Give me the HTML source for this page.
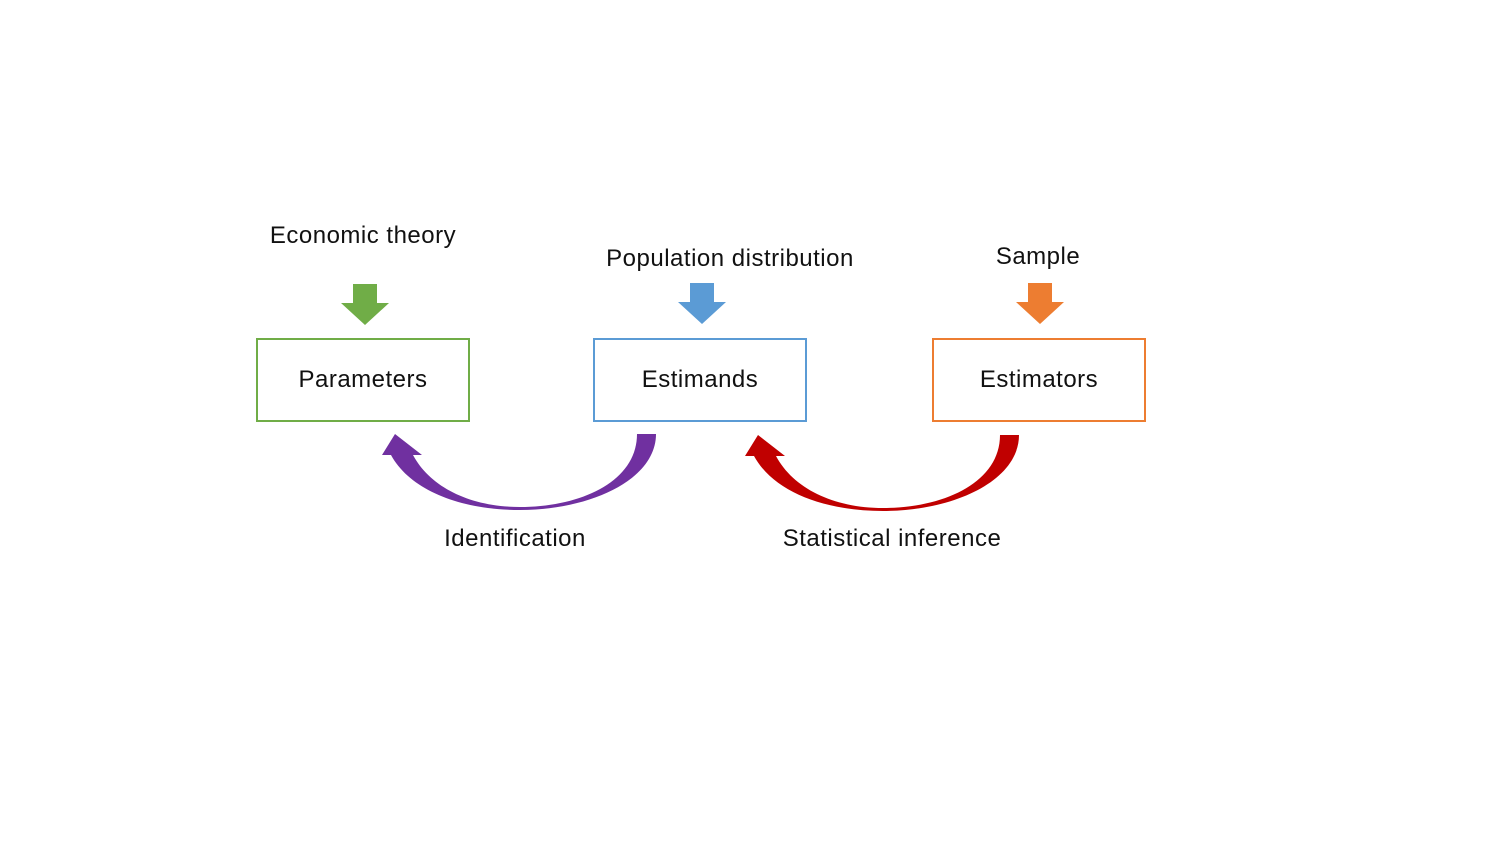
<!DOCTYPE html>
<html><head><style>
body{margin:0;width:1499px;height:843px;background:#fff;overflow:hidden;position:relative;font-family:"Liberation Sans",sans-serif;}
.t{position:absolute;font-size:24px;letter-spacing:0.5px;color:#111;white-space:nowrap;transform:translateX(-50%);}
.b{position:absolute;box-sizing:border-box;border:2px solid;background:#fff;display:flex;align-items:center;justify-content:center;font-size:24px;letter-spacing:0.5px;color:#111;}
</style></head><body>
<div class="t" style="left:363px;top:222px">Economic theory</div>
<div class="t" style="left:730px;top:245px">Population distribution</div>
<div class="t" style="left:1038px;top:243px">Sample</div>
<div class="t" style="left:515px;top:525px">Identification</div>
<div class="t" style="left:892px;top:525px">Statistical inference</div>
<div class="b" style="left:256px;top:338px;width:214px;height:84px;border-color:#70ad47">Parameters</div>
<div class="b" style="left:593px;top:338px;width:214px;height:84px;border-color:#5b9bd5">Estimands</div>
<div class="b" style="left:932px;top:338px;width:214px;height:84px;border-color:#ed7d31">Estimators</div>
<svg width="1499" height="843" style="position:absolute;left:0;top:0">
<polygon points="353,284 377,284 377,303 389,303 365,325 341,303 353,303" fill="#70ad47"/>
<polygon points="690,283 714,283 714,302 726,302 702,324 678,302 690,302" fill="#5b9bd5"/>
<polygon points="1028,283 1052,283 1052,302 1064,302 1040,324 1016,302 1028,302" fill="#ed7d31"/>
<path d="M656 434 L637 434 C637 482 580 507 520 507 C470 507 430 487 413 455 L422 455 L395 434 L382 455 L391 455 C410 490 460 510 520 510 C590 510 656 480 656 434 Z" fill="#7030a0"/>
<path transform="translate(363,1)" d="M656 434 L637 434 C637 482 580 507 520 507 C470 507 430 487 413 455 L422 455 L395 434 L382 455 L391 455 C410 490 460 510 520 510 C590 510 656 480 656 434 Z" fill="#c00000"/>
</svg>
</body></html>
